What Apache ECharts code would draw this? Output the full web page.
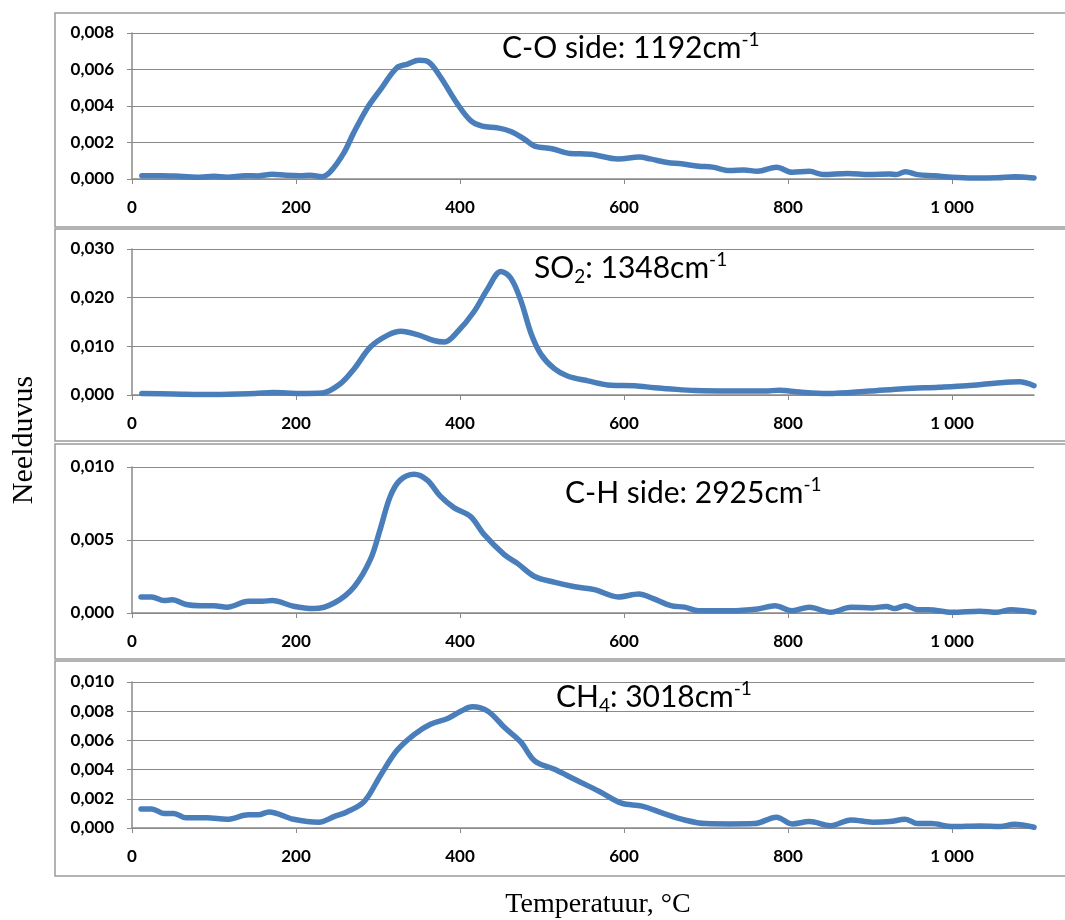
<!DOCTYPE html>
<html>
<head>
<meta charset="utf-8">
<script src="https://cdn.jsdelivr.net/npm/echarts@6/dist/echarts.min.js"></script>
<style>
  html, body { margin: 0; padding: 0; background: #fff; }
  #chart { width: 1065px; height: 920px; }
</style>
</head>
<body>
<div id="chart"></div>
<script>
// temperature ticks (°C)
const tempTicks = [0, 200, 400, 600, 800, 1000]

// C-O side, 1192 cm-1  [temperature, absorbance]
const coData = [
  [12, 0.00018], [36, 0.00018], [58, 0.00015], [83, 0.0001], [100, 0.00015], [116, 0.0001],
  [138, 0.00018], [154, 0.00017], [171, 0.00026], [188, 0.0002], [205, 0.00018], [217, 0.0002],
  [232, 0.00013], [242, 0.0004], [258, 0.0014], [270, 0.0025], [287, 0.0039], [303, 0.0049],
  [323, 0.0061], [336, 0.0063], [350, 0.0065], [362, 0.0064], [376, 0.0056], [397, 0.0041],
  [413, 0.0032], [427, 0.0029], [446, 0.0028], [462, 0.0026], [478, 0.0022], [491, 0.0018],
  [512, 0.00166], [534, 0.0014], [559, 0.00136], [593, 0.0011], [619, 0.0012], [632, 0.0011],
  [653, 0.0009], [670, 0.00083], [691, 0.0007], [708, 0.00065], [729, 0.00046], [746, 0.0005],
  [763, 0.00042], [786, 0.00065], [805, 0.00037], [826, 0.00042], [843, 0.00024], [873, 0.0003],
  [899, 0.00024], [924, 0.00028], [932, 0.00024], [943, 0.0004], [958, 0.00024], [979, 0.00018],
  [1000, 0.0001], [1026, 0.00006], [1055, 0.00007], [1076, 0.00013], [1100, 0.00006]
]

// SO2, 1348 cm-1
const so2Data = [
  [12, 0.0003], [50, 0.0002], [100, 0.0001], [150, 0.0003], [172, 0.0005], [205, 0.0003],
  [232, 0.0004], [254, 0.0023], [271, 0.0054], [291, 0.0099], [312, 0.0123], [328, 0.0131],
  [348, 0.0124], [368, 0.0112], [381, 0.0109], [397, 0.013], [417, 0.0171], [434, 0.0219],
  [450, 0.0254], [462, 0.024], [474, 0.0195], [487, 0.0125], [499, 0.0083], [515, 0.0054],
  [531, 0.0039], [556, 0.0029], [584, 0.002], [613, 0.0019], [637, 0.0015], [653, 0.0013],
  [687, 0.0009], [729, 0.0008], [772, 0.0008], [789, 0.001], [814, 0.0006], [848, 0.0003],
  [899, 0.0008], [941, 0.0013], [984, 0.0016], [1018, 0.0019], [1052, 0.0024], [1082, 0.0027],
  [1100, 0.0019]
]

// C-H side, 2925 cm-1
const chData = [
  [11, 0.0011], [24, 0.0011], [39, 0.00086], [49, 0.0009], [66, 0.00058], [83, 0.0005],
  [100, 0.0005], [116, 0.0004], [142, 0.0008], [159, 0.0008], [171, 0.00086], [197, 0.00046],
  [222, 0.0003], [247, 0.0007], [271, 0.0018], [291, 0.0037], [303, 0.0058], [315, 0.008],
  [327, 0.0091], [344, 0.0095], [360, 0.0091], [376, 0.008], [393, 0.0072], [413, 0.0066],
  [429, 0.0054], [454, 0.004], [470, 0.0034], [491, 0.0025], [516, 0.0021], [540, 0.0018],
  [564, 0.0016], [593, 0.0011], [618, 0.0013], [635, 0.001], [657, 0.0005], [674, 0.0004],
  [691, 0.00016], [729, 0.00016], [763, 0.00028], [784, 0.0005], [805, 0.00016], [826, 0.0004],
  [852, 0.00005], [877, 0.0004], [903, 0.00035], [920, 0.00045], [930, 0.0003], [943, 0.0005],
  [958, 0.00023], [971, 0.00023], [1000, 0.00005], [1034, 0.00012], [1055, 0.00005],
  [1072, 0.00023], [1100, 0.00005]
]

// CH4, 3018 cm-1
const ch4Data = [
  [11, 0.0013], [24, 0.0013], [39, 0.001], [51, 0.001], [66, 0.0007], [91, 0.0007],
  [116, 0.0006], [142, 0.0009], [154, 0.0009], [167, 0.0011], [197, 0.0006], [228, 0.0004],
  [247, 0.0008], [262, 0.0011], [283, 0.0018], [303, 0.0036], [323, 0.0053], [344, 0.0064],
  [364, 0.0071], [385, 0.0075], [401, 0.008], [415, 0.0083], [434, 0.008], [454, 0.0069],
  [474, 0.0059], [491, 0.0046], [516, 0.004], [541, 0.0033], [570, 0.0025], [597, 0.0017],
  [622, 0.0015], [648, 0.001], [674, 0.00055], [700, 0.0003], [729, 0.00028], [759, 0.0003],
  [786, 0.00074], [805, 0.00028], [826, 0.00044], [852, 0.00016], [877, 0.00055], [903, 0.0004],
  [924, 0.00044], [943, 0.0006], [958, 0.0003], [975, 0.0003], [1000, 0.0001], [1034, 0.00014],
  [1059, 0.0001], [1076, 0.00025], [1100, 0.00005]
]

// y-axis ranges per panel
const yMax = [0.008, 0.030, 0.010, 0.010]
const yStep = [0.002, 0.010, 0.005, 0.002]

const panelTitles = [
  '{t|C-O side: 1192cm}{sup|-1}',
  '{t|SO}{sub|2}{t|: 1348cm}{sup|-1}',
  '{t|C-H side: 2925cm}{sup|-1}',
  '{t|CH}{sub|4}{t|: 3018cm}{sup|-1}'
]

const panels = [coData, so2Data, chData, ch4Data]

// layout
const gridTop = [33, 249, 467, 682]
const gridH = 146
const boxes = [[13, 227], [229, 441], [444, 659], [661, 876]]
const titlePos = [[502, 48], [534, 268], [565, 493], [556, 697]]

const gray = '#8a8a8a'
const lineBlue = '#4a7ebb'
const tickFont = { fontFamily: 'Lato', fontWeight: 'bold', fontSize: 17, color: '#000' }

const chart = echarts.init(document.getElementById('chart'), null, { renderer: 'canvas' })

const grids = [], xAxes = [], yAxes = [], series = [], graphics = []

panels.forEach((data, i) => {
  grids.push({ left: 132, width: 902, top: gridTop[i], height: gridH })
  xAxes.push({
    type: 'value', gridIndex: i, min: 0, max: 1100, interval: 200,
    axisLine: { show: true, lineStyle: { color: gray, width: 1.5 } },
    axisTick: { show: true, length: 5, customValues: tempTicks, lineStyle: { color: gray } },
    axisLabel: {
      ...tickFont, margin: 20, customValues: tempTicks,
      formatter: v => v >= 1000 ? String(v).replace(/(\d)(\d{3})$/, '$1 $2') : String(v)
    },
    splitLine: { show: false }
  })
  yAxes.push({
    type: 'value', gridIndex: i, min: 0, max: yMax[i], interval: yStep[i],
    axisLine: { show: true, lineStyle: { color: gray, width: 1.5 } },
    axisTick: { show: true, length: 5, lineStyle: { color: gray } },
    axisLabel: { ...tickFont, margin: 18, formatter: v => v.toFixed(3).replace('.', ',') },
    splitLine: { show: true, lineStyle: { color: gray, width: 1 } }
  })
  series.push({
    type: 'line', xAxisIndex: i, yAxisIndex: i, data: data,
    smooth: 0.35, showSymbol: false, symbol: 'none',
    lineStyle: { color: lineBlue, width: 5.5, cap: 'round', join: 'round' },
    z: 5
  })
  graphics.push({
    type: 'rect', silent: true, z: -1,
    shape: { x: 55, y: boxes[i][0], width: 1030, height: boxes[i][1] - boxes[i][0] },
    style: { fill: 'none', stroke: '#9a9a9a', lineWidth: 1.5 }
  })
  graphics.push({
    type: 'text', x: titlePos[i][0], y: titlePos[i][1], z: 10,
    style: {
      text: panelTitles[i],
      verticalAlign: 'middle',
      rich: {
        t: { fontFamily: 'Lato', fontSize: 30, color: '#000', lineHeight: 36, verticalAlign: 'middle' },
        sup: { fontFamily: 'Lato', fontSize: 19, color: '#000', lineHeight: 36, verticalAlign: 'top' },
        sub: { fontFamily: 'Lato', fontSize: 19, color: '#000', lineHeight: 36, verticalAlign: 'bottom' }
      }
    }
  })
})

// axis titles
graphics.push({
  type: 'text', x: 24, y: 440, rotation: Math.PI / 2, z: 10,
  style: { text: 'Neelduvus', fontFamily: 'Liberation Serif', fontSize: 30, fill: '#000', align: 'center', verticalAlign: 'middle' }
})
graphics.push({
  type: 'text', x: 598, y: 905, z: 10,
  style: { text: 'Temperatuur, °C', fontFamily: 'Liberation Serif', fontSize: 28, fill: '#000', align: 'center', verticalAlign: 'middle' }
})

chart.setOption({
  animation: false,
  backgroundColor: '#fff',
  grid: grids,
  xAxis: xAxes,
  yAxis: yAxes,
  series: series,
  graphic: graphics
})
</script>
</body>
</html>
